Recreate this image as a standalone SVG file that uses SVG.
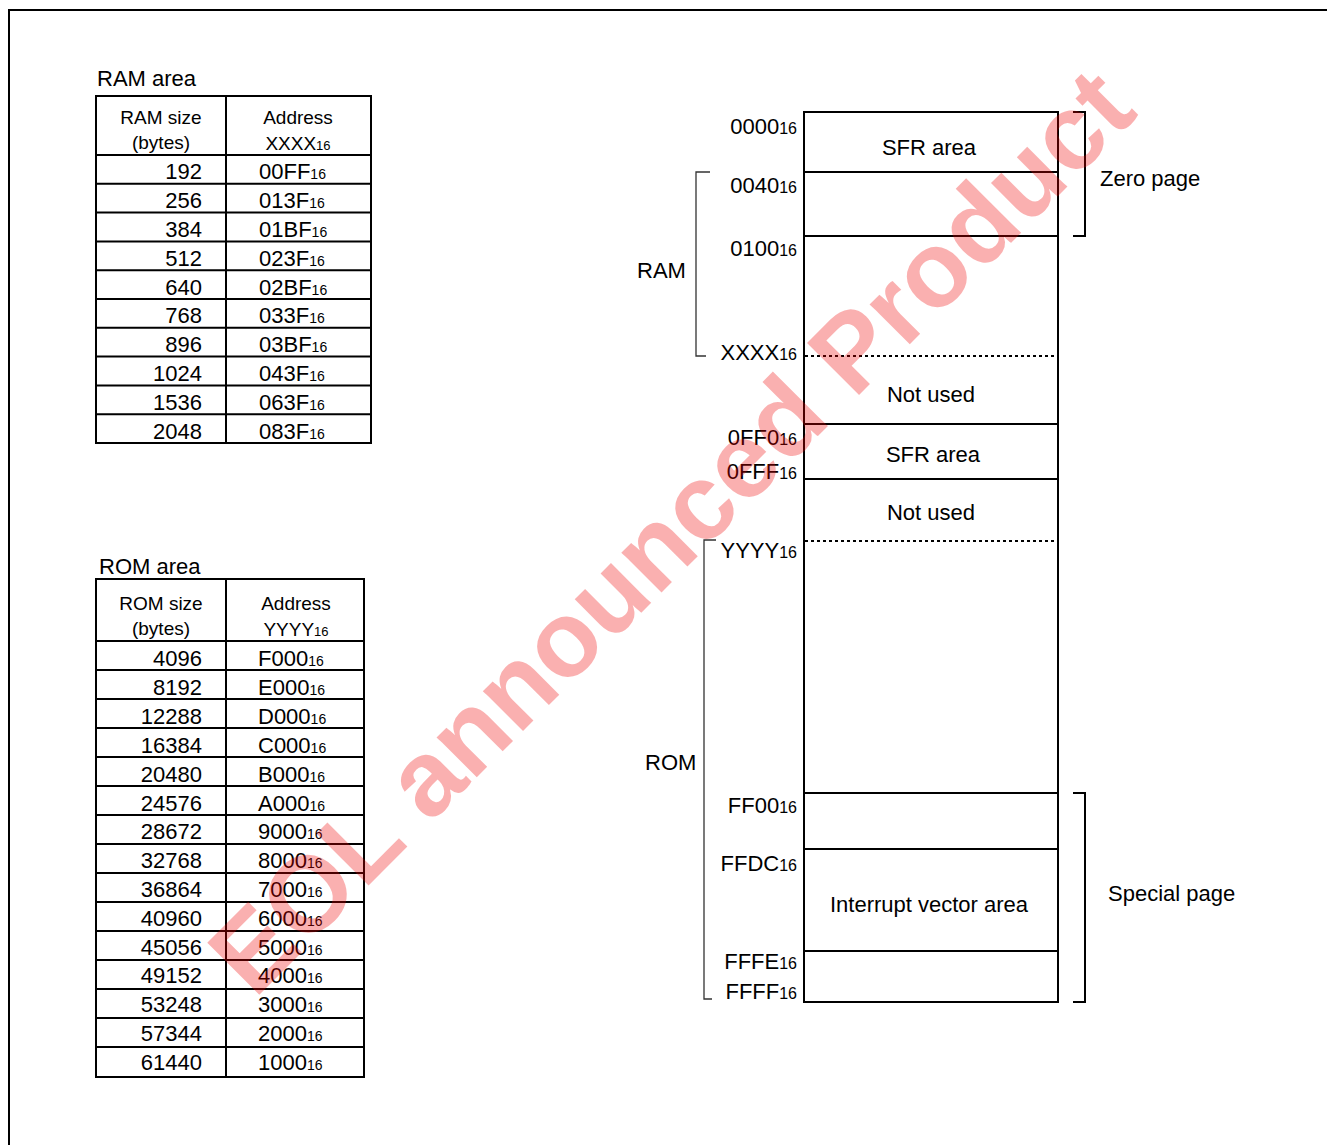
<svg xmlns="http://www.w3.org/2000/svg" width="1327" height="1145" viewBox="0 0 1327 1145">
<style>
text{font-family:"Liberation Sans",Arial,Helvetica,sans-serif;fill:#000}
.t{font-size:22px}
.h{font-size:19px}
.s{font-size:14px}
.sh{font-size:13px}
.sm{font-size:16px}
.ln{stroke:#000;stroke-width:2;fill:none}
.dot{stroke:#000;stroke-width:2;stroke-dasharray:3 3;fill:none}
.thin{stroke:#333;stroke-width:1.3;fill:none}
.e{text-anchor:end}
.m{text-anchor:middle}
</style>
<rect x="0" y="0" width="1327" height="1145" fill="#fff"/>
<path class="ln" d="M9,1150 V10 H1330"/>

<g id="ram-table">
<text class="t" x="97" y="86">RAM area</text>
<rect class="ln" x="96" y="96" width="275" height="347"/>
<path class="ln" d="M226,96 V443 M96,155 H371 M96,183.8 H371 M96,212.6 H371 M96,241.4 H371 M96,270.2 H371 M96,299 H371 M96,327.8 H371 M96,356.6 H371 M96,385.4 H371 M96,414.2 H371"/>
<text class="h m" x="161" y="124">RAM size</text>
<text class="h m" x="161" y="149">(bytes)</text>
<text class="h m" x="298" y="124">Address</text>
<text class="h m" x="298" y="150">XXXX<tspan class="sh">16</tspan></text>
<text class="t e" x="202" y="179">192</text><text class="t" x="259" y="179">00FF<tspan class="s">16</tspan></text>
<text class="t e" x="202" y="208">256</text><text class="t" x="259" y="208">013F<tspan class="s">16</tspan></text>
<text class="t e" x="202" y="237">384</text><text class="t" x="259" y="237">01BF<tspan class="s">16</tspan></text>
<text class="t e" x="202" y="265.5">512</text><text class="t" x="259" y="265.5">023F<tspan class="s">16</tspan></text>
<text class="t e" x="202" y="294.5">640</text><text class="t" x="259" y="294.5">02BF<tspan class="s">16</tspan></text>
<text class="t e" x="202" y="323">768</text><text class="t" x="259" y="323">033F<tspan class="s">16</tspan></text>
<text class="t e" x="202" y="352">896</text><text class="t" x="259" y="352">03BF<tspan class="s">16</tspan></text>
<text class="t e" x="202" y="381">1024</text><text class="t" x="259" y="381">043F<tspan class="s">16</tspan></text>
<text class="t e" x="202" y="409.5">1536</text><text class="t" x="259" y="409.5">063F<tspan class="s">16</tspan></text>
<text class="t e" x="202" y="438.5">2048</text><text class="t" x="259" y="438.5">083F<tspan class="s">16</tspan></text>
</g>

<g id="rom-table">
<text class="t" x="99" y="574">ROM area</text>
<rect class="ln" x="96" y="579" width="268" height="498"/>
<path class="ln" d="M226,579 V1077 M96,641 H364 M96,670 H364 M96,699 H364 M96,728 H364 M96,757 H364 M96,786 H364 M96,815 H364 M96,844 H364 M96,873 H364 M96,902 H364 M96,931 H364 M96,960 H364 M96,989 H364 M96,1018 H364 M96,1047 H364"/>
<text class="h m" x="161" y="610">ROM size</text>
<text class="h m" x="161" y="635">(bytes)</text>
<text class="h m" x="296" y="610">Address</text>
<text class="h m" x="296" y="636">YYYY<tspan class="sh">16</tspan></text>
<text class="t e" x="202" y="666">4096</text><text class="t" x="258" y="666">F000<tspan class="s">16</tspan></text>
<text class="t e" x="202" y="695">8192</text><text class="t" x="258" y="695">E000<tspan class="s">16</tspan></text>
<text class="t e" x="202" y="724">12288</text><text class="t" x="258" y="724">D000<tspan class="s">16</tspan></text>
<text class="t e" x="202" y="753">16384</text><text class="t" x="258" y="753">C000<tspan class="s">16</tspan></text>
<text class="t e" x="202" y="781.5">20480</text><text class="t" x="258" y="781.5">B000<tspan class="s">16</tspan></text>
<text class="t e" x="202" y="810.5">24576</text><text class="t" x="258" y="810.5">A000<tspan class="s">16</tspan></text>
<text class="t e" x="202" y="839">28672</text><text class="t" x="258" y="839">9000<tspan class="s">16</tspan></text>
<text class="t e" x="202" y="868">32768</text><text class="t" x="258" y="868">8000<tspan class="s">16</tspan></text>
<text class="t e" x="202" y="897">36864</text><text class="t" x="258" y="897">7000<tspan class="s">16</tspan></text>
<text class="t e" x="202" y="925.5">40960</text><text class="t" x="258" y="925.5">6000<tspan class="s">16</tspan></text>
<text class="t e" x="202" y="954.5">45056</text><text class="t" x="258" y="954.5">5000<tspan class="s">16</tspan></text>
<text class="t e" x="202" y="983">49152</text><text class="t" x="258" y="983">4000<tspan class="s">16</tspan></text>
<text class="t e" x="202" y="1012">53248</text><text class="t" x="258" y="1012">3000<tspan class="s">16</tspan></text>
<text class="t e" x="202" y="1041">57344</text><text class="t" x="258" y="1041">2000<tspan class="s">16</tspan></text>
<text class="t e" x="202" y="1069.5">61440</text><text class="t" x="258" y="1069.5">1000<tspan class="s">16</tspan></text>
</g>

<g id="memory-map">
<rect class="ln" x="804" y="112" width="254" height="890"/>
<path class="ln" d="M804,172 H1058 M804,236 H1058 M804,424 H1058 M804,479 H1058 M804,793 H1058 M804,849 H1058 M804,951 H1058"/>
<path class="dot" d="M805,356 H1058 M805,541 H1058"/>
<g id="region-sfr1"><text class="t m" x="929" y="155">SFR area</text></g>
<g id="region-notused1"><text class="t m" x="931" y="402">Not used</text></g>
<g id="region-sfr2"><text class="t m" x="933" y="462">SFR area</text></g>
<g id="region-notused2"><text class="t m" x="931" y="520">Not used</text></g>
<g id="region-vector"><text class="t m" x="929" y="912">Interrupt vector area</text></g>
</g>

<g id="addresses">
<text class="t e" x="797" y="134">0000<tspan class="sm">16</tspan></text>
<text class="t e" x="797" y="193">0040<tspan class="sm">16</tspan></text>
<text class="t e" x="797" y="256">0100<tspan class="sm">16</tspan></text>
<text class="t e" x="797" y="360">XXXX<tspan class="sm">16</tspan></text>
<text class="t e" x="797" y="445">0FF0<tspan class="sm">16</tspan></text>
<text class="t e" x="797" y="479">0FFF<tspan class="sm">16</tspan></text>
<text class="t e" x="797" y="558">YYYY<tspan class="sm">16</tspan></text>
<text class="t e" x="797" y="813">FF00<tspan class="sm">16</tspan></text>
<text class="t e" x="797" y="871">FFDC<tspan class="sm">16</tspan></text>
<text class="t e" x="797" y="969">FFFE<tspan class="sm">16</tspan></text>
<text class="t e" x="797" y="999">FFFF<tspan class="sm">16</tspan></text>
</g>

<g id="connectors">
<path class="thin" d="M710,172 H696 V356 H706"/>
<path class="thin" d="M716,540 H704 V999 H712"/>
<path class="ln" d="M1073,112 H1085 V236 H1073"/>
<path class="ln" d="M1073,793 H1085 V1002 H1073"/>
</g>

<g id="labels">
<text class="t" x="637" y="278">RAM</text>
<text class="t" x="645" y="770">ROM</text>
<text class="t" x="1100" y="186">Zero page</text>
<text class="t" x="1108" y="901">Special page</text>
</g>

<g id="watermark">
<text x="0" y="0" transform="translate(697,557) rotate(-45)" text-anchor="middle" style="font-family:'Liberation Sans',Arial,sans-serif;font-weight:bold;font-size:107px;fill:#f00000;fill-opacity:0.31">EOL announced Product</text>
</g>
</svg>
